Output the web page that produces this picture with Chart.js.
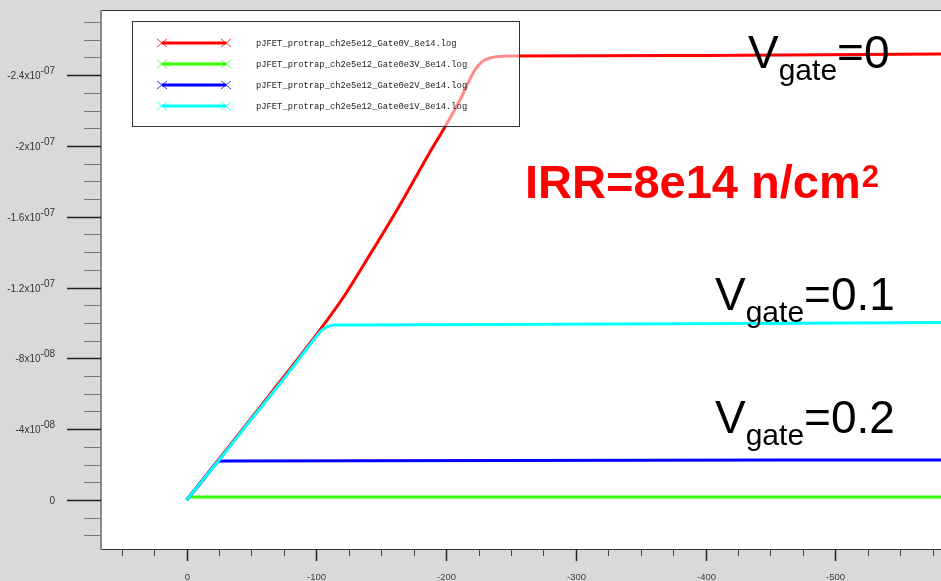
<!DOCTYPE html>
<html>
<head>
<meta charset="utf-8">
<script src="https://cdn.jsdelivr.net/npm/chart.js@4/dist/chart.umd.min.js"></script>
<style>
  html, body { margin: 0; padding: 0; background: #d9d9d9; }
  canvas { display: block; }
</style>
</head>
<body>
<canvas id="iv" width="941" height="581"></canvas>
<script>
// Drain voltage (V) and drain current (A) for each gate bias
const vdGate0V   = [0, -25.7, -48.8, -74.2, -102.7, -122.0, -139.7, -164.4, -187.6, -199.1, -210.7, -222.2, -227.6, -233.8, -249.3, -398.9, -581.5];
const idGate0V   = [0, -2.37e-8, -4.52e-8, -6.89e-8, -9.60e-8, -1.158e-7, -1.367e-7, -1.667e-7, -1.966e-7, -2.107e-7, -2.26e-7, -2.429e-7, -2.475e-7, -2.497e-7, -2.508e-7, -2.511e-7, -2.52e-7];

const vdGate0e3V = [0, -2.3, -581.5];
const idGate0e3V = [0, -1.7e-9, -1.7e-9];

const vdGate0e2V = [0, -13.9, -21.8, -24.9, -28.0, -581.5];
const idGate0e2V = [0, -1.24e-8, -1.98e-8, -2.18e-8, -2.20e-8, -2.26e-8];

const vdGate0e1V = [0, -25.7, -48.8, -74.2, -95.0, -104.3, -108.9, -114.3, -133.6, -581.5];
const idGate0e1V = [0, -2.32e-8, -4.46e-8, -6.78e-8, -8.76e-8, -9.60e-8, -9.80e-8, -9.89e-8, -9.89e-8, -1.002e-7];

const seriesNames = [
  'pJFET_protrap_ch2e5e12_Gate0V_8e14.log',
  'pJFET_protrap_ch2e5e12_Gate0e3V_8e14.log',
  'pJFET_protrap_ch2e5e12_Gate0e2V_8e14.log',
  'pJFET_protrap_ch2e5e12_Gate0e1V_8e14.log'
];
const seriesColors = ['#ff0000', '#33ff00', '#0000ff', '#00ffff'];

// Axis ticks
const xMajorTicks = [0, -100, -200, -300, -400, -500];
const xMinorTicks = [50, 25, -25, -50, -75, -125, -150, -175, -225, -250, -275, -325, -350, -375, -425, -450, -475, -525, -550, -575];
const yMajorTicks = [0, -4e-8, -8e-8, -1.2e-7, -1.6e-7, -2e-7, -2.4e-7];
const yMinorTicks = [2e-8, 1e-8, -1e-8, -2e-8, -3e-8, -5e-8, -6e-8, -7e-8, -9e-8, -1e-7, -1.1e-7, -1.3e-7, -1.4e-7, -1.5e-7, -1.7e-7, -1.8e-7, -1.9e-7, -2.1e-7, -2.2e-7, -2.3e-7, -2.5e-7, -2.6e-7, -2.7e-7];

const xRange = [-581.5, 66.0];
const yRange = [-2.768e-7, 2.768e-8];

function pts(xs, ys) { return xs.map((x, i) => ({ x: x, y: ys[i] })); }

// "-2.4x10" + superscript "-07"
function sciParts(v) {
  if (v === 0) return ['0', ''];
  const e = Math.floor(Math.log10(Math.abs(v)) + 1e-9);
  const m = Math.round(v / Math.pow(10, e) * 10) / 10;
  const es = (e < 0 ? '-' : '') + String(Math.abs(e)).padStart(2, '0');
  return [m + 'x10', es];
}

const frame = {
  id: 'frame',
  beforeDraw(chart) {
    const { ctx, chartArea: a } = chart;
    ctx.save();
    ctx.fillStyle = '#d9d9d9';
    ctx.fillRect(0, 0, chart.width, chart.height);
    ctx.fillStyle = '#ffffff';
    ctx.fillRect(a.left, a.top, a.right - a.left, a.bottom - a.top);
    ctx.restore();
  },
  afterDatasetsDraw(chart) {
    const { ctx, chartArea: a, scales } = chart;
    const xs = scales.x, ys = scales.y;
    ctx.save();

    // plot frame
    ctx.strokeStyle = '#333';
    ctx.lineWidth = 1;
    ctx.beginPath();
    ctx.moveTo(a.left, a.top + 0.5); ctx.lineTo(a.right, a.top + 0.5);
    ctx.moveTo(a.left, a.bottom + 0.5); ctx.lineTo(a.right, a.bottom + 0.5);
    ctx.stroke();
    ctx.strokeStyle = '#8a8a8a';
    ctx.lineWidth = 2;
    ctx.beginPath();
    ctx.moveTo(a.left, a.top); ctx.lineTo(a.left, a.bottom + 1);
    ctx.stroke();

    // y ticks
    ctx.lineWidth = 1;
    yMinorTicks.forEach(v => {
      const y = Math.round(ys.getPixelForValue(v)) + 0.5;
      ctx.strokeStyle = '#777';
      ctx.beginPath(); ctx.moveTo(84, y); ctx.lineTo(a.left, y); ctx.stroke();
    });
    ctx.lineWidth = 1.5;
    yMajorTicks.forEach(v => {
      const y = Math.round(ys.getPixelForValue(v)) + 0.5;
      ctx.strokeStyle = '#222';
      ctx.beginPath(); ctx.moveTo(67, y); ctx.lineTo(a.left, y); ctx.stroke();
      const [main, sup] = sciParts(v);
      ctx.fillStyle = '#333';
      ctx.textBaseline = 'alphabetic';
      ctx.font = '10px "Liberation Sans", Arial, sans-serif';
      const supW = sup ? ctx.measureText(sup).width : 0;
      const right = 55;
      ctx.textAlign = 'right';
      ctx.fillText(main, right - supW, y + 3);
      if (sup) {
        ctx.textAlign = 'left';
        ctx.fillText(sup, right - supW, y - 2);
      }
    });

    // x ticks
    ctx.lineWidth = 1;
    xMinorTicks.forEach(v => {
      const x = Math.round(xs.getPixelForValue(v)) + 0.5;
      ctx.strokeStyle = '#444';
      ctx.beginPath(); ctx.moveTo(x, a.bottom); ctx.lineTo(x, a.bottom + 7); ctx.stroke();
    });
    ctx.lineWidth = 1.5;
    ctx.font = '9.5px "Liberation Sans", Arial, sans-serif';
    ctx.textAlign = 'center';
    xMajorTicks.forEach(v => {
      const x = Math.round(xs.getPixelForValue(v)) + 0.5;
      ctx.strokeStyle = '#222';
      ctx.beginPath(); ctx.moveTo(x, a.bottom); ctx.lineTo(x, a.bottom + 12); ctx.stroke();
      ctx.fillStyle = '#444';
      ctx.fillText(String(v), x, 580);
    });

    // legend box (translucent, lets the curves show through faintly)
    ctx.fillStyle = 'rgba(255,255,255,0.55)';
    ctx.fillRect(132, 21, 387, 105);
    ctx.strokeStyle = '#333';
    ctx.lineWidth = 1;
    ctx.strokeRect(132.5, 21.5, 387, 105);
    const rowY = [43, 64, 85, 106];
    seriesNames.forEach((name, i) => {
      const y = rowY[i];
      ctx.strokeStyle = seriesColors[i];
      ctx.lineWidth = 3;
      ctx.beginPath(); ctx.moveTo(162, y); ctx.lineTo(226, y); ctx.stroke();
      ctx.lineWidth = 0.8;
      [162, 226].forEach(cx => {
        ctx.beginPath();
        ctx.moveTo(cx - 5, y - 4); ctx.lineTo(cx + 5, y + 4);
        ctx.moveTo(cx - 5, y + 4); ctx.lineTo(cx + 5, y - 4);
        ctx.stroke();
      });
      ctx.fillStyle = '#222';
      ctx.font = '8.8px "Liberation Mono", "DejaVu Sans Mono", monospace';
      ctx.textAlign = 'left';
      ctx.textBaseline = 'middle';
      ctx.fillText(name, 256, y + 1);
    });

    // annotations
    ctx.textBaseline = 'alphabetic';
    ctx.textAlign = 'left';
    function gateLabel(x, y, val) {
      ctx.fillStyle = '#000';
      ctx.font = '46px "Liberation Sans", Arial, sans-serif';
      ctx.fillText('V', x, y);
      let cx = x + ctx.measureText('V').width;
      ctx.font = '30px "Liberation Sans", Arial, sans-serif';
      ctx.fillText('gate', cx, y + 12);
      cx += ctx.measureText('gate').width;
      ctx.font = '46px "Liberation Sans", Arial, sans-serif';
      ctx.fillText('=' + val, cx, y);
    }
    gateLabel(748, 68, '0');
    gateLabel(715, 310, '0.1');
    gateLabel(715, 433, '0.2');

    ctx.fillStyle = '#ff0000';
    ctx.font = 'bold 47px "Liberation Sans", Arial, sans-serif';
    const irr = 'IRR=8e14 n/cm';
    ctx.fillText(irr, 525, 198);
    const w = ctx.measureText(irr).width;
    ctx.font = 'bold 31px "Liberation Sans", Arial, sans-serif';
    ctx.fillText('2', 525 + w + 1, 187);

    ctx.restore();
  }
};

const datasets = [
  { label: seriesNames[0], data: pts(vdGate0V, idGate0V),     borderColor: seriesColors[0], order: 3 },
  { label: seriesNames[1], data: pts(vdGate0e3V, idGate0e3V), borderColor: seriesColors[1], order: 4 },
  { label: seriesNames[2], data: pts(vdGate0e2V, idGate0e2V), borderColor: seriesColors[2], order: 2 },
  { label: seriesNames[3], data: pts(vdGate0e1V, idGate0e1V), borderColor: seriesColors[3], order: 1 }
].map(d => Object.assign(d, { borderWidth: 3, pointRadius: 0, cubicInterpolationMode: 'monotone', fill: false }));

new Chart(document.getElementById('iv'), {
  type: 'line',
  data: { datasets: datasets },
  options: {
    responsive: false,
    animation: false,
    layout: { padding: { left: 101, top: 10, right: 0, bottom: 32 } },
    plugins: { legend: { display: false }, tooltip: { enabled: false } },
    scales: {
      x: { type: 'linear', reverse: true, min: xRange[0], max: xRange[1], display: false },
      y: { type: 'linear', reverse: true, min: yRange[0], max: yRange[1], display: false }
    }
  },
  plugins: [frame]
});
</script>
</body>
</html>
